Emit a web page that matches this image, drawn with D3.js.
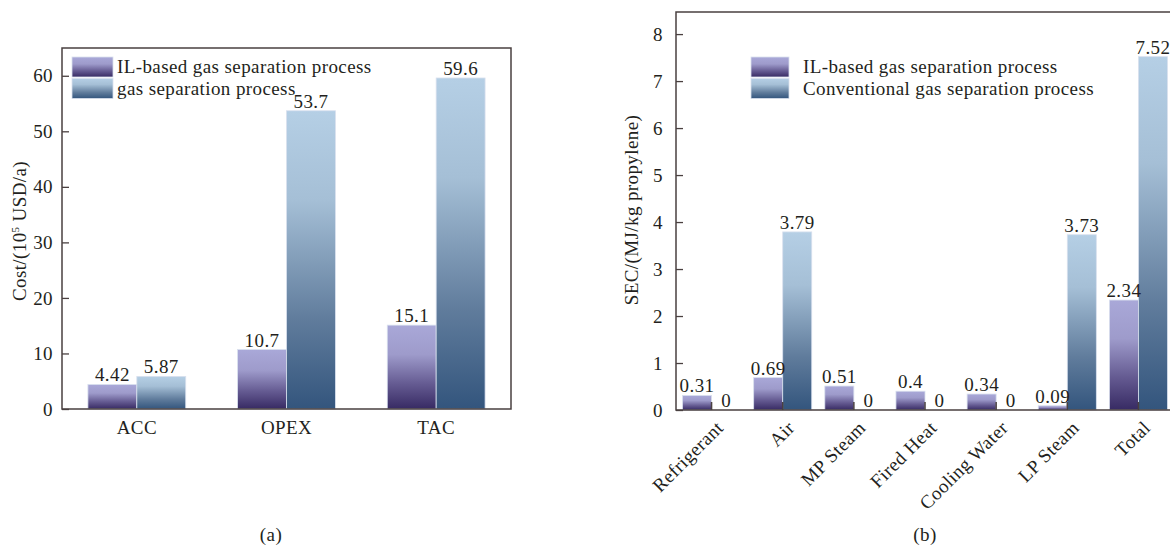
<!DOCTYPE html>
<html>
<head>
<meta charset="utf-8">
<script src="https://cdn.jsdelivr.net/npm/d3@7"></script>
<style>
  html, body { margin: 0; padding: 0; background: #fff; }
  svg { display: block; font-family: "Liberation Serif", "Times New Roman", serif; }
</style>
</head>
<body>
<svg id="chart" width="1170" height="547"></svg>
<script>
// Panel (a): annual cost comparison
const costCategories = ["ACC", "OPEX", "TAC"];
const costIL = [4.42, 10.7, 15.1];
const costConv = [5.87, 53.7, 59.6];
const costTicks = [0, 10, 20, 30, 40, 50, 60];
const costSeriesNames = ["IL-based gas separation process", "gas separation process"];

// Panel (b): specific energy consumption by utility
const secCategories = ["Refrigerant", "Air", "MP Steam", "Fired Heat", "Cooling Water", "LP Steam", "Total"];
const secIL = [0.31, 0.69, 0.51, 0.4, 0.34, 0.09, 2.34];
const secConv = [0, 3.79, 0, 0, 0, 3.73, 7.52];
const secTicks = [0, 1, 2, 3, 4, 5, 6, 7, 8];
const secSeriesNames = ["IL-based gas separation process", "Conventional gas separation process"];

const svg = d3.select("#chart");
const frameColor = "#4a4040";
const textColor = "#231f20";
const FONT = 19;
const SPACING = 0.4;
const FAMILY = "Liberation Serif, Times New Roman, serif";

// Vertical gradients, one per series, stretched over each bar
const defs = svg.append("defs");
function gradient(id, stops) {
  const g = defs.append("linearGradient").attr("id", id)
    .attr("x1", 0).attr("y1", 0).attr("x2", 0).attr("y2", 1);
  stops.forEach(([o, c]) => g.append("stop").attr("offset", o).attr("stop-color", c));
}
gradient("gradIL", [[0, "#a9a8d8"], [0.35, "#9e9bcb"], [0.7, "#655b92"], [1, "#372a63"]]);
gradient("gradConv", [[0, "#b5cfe5"], [0.3, "#a5bfd6"], [0.7, "#607c9c"], [1, "#33557d"]]);
const fills = ["url(#gradIL)", "url(#gradConv)"];

function styleText(sel) {
  return sel.attr("font-size", FONT).attr("fill", textColor)
    .attr("font-family", FAMILY).attr("letter-spacing", SPACING);
}

function drawPanel(cfg) {
  const g = svg.append("g");
  const x = d3.scaleBand().domain(cfg.categories).range([cfg.left, cfg.right]).paddingInner(0).paddingOuter(0);
  const sub = d3.scaleBand().domain([0, 1]).range([0, x.bandwidth()]).paddingInner(0).paddingOuter(cfg.subPad);
  const y = d3.scaleLinear().domain(cfg.yDomain).range([cfg.bottom, cfg.top]);

  const rows = cfg.categories.map((c, i) => ({ c, vals: [cfg.il[i], cfg.conv[i]] }));

  // bars
  const grp = g.selectAll("g.grp").data(rows).join("g")
    .attr("transform", d => `translate(${x(d.c)},0)`);
  grp.selectAll("rect").data(d => d.vals.map((v, s) => ({ v, s }))).join("rect")
    .attr("x", d => sub(d.s))
    .attr("width", sub.bandwidth())
    .attr("y", d => y(d.v))
    .attr("height", d => y(0) - y(d.v))
    .attr("fill", d => fills[d.s])
    .attr("stroke", "#d9e0ee")
    .attr("stroke-width", 0.8);

  // value labels
  grp.selectAll("text.val").data(d => d.vals.map((v, s) => ({ v, s }))).join("text")
    .attr("class", "val")
    .attr("x", d => sub(d.s) + sub.bandwidth() / 2)
    .attr("y", d => y(d.v) - 3)
    .attr("text-anchor", "middle")
    .call(styleText)
    .text(d => d.v);

  // y axis with inward ticks
  const yAxis = g.append("g").attr("transform", `translate(${cfg.left},0)`)
    .call(d3.axisLeft(y).tickValues(cfg.ticks).tickSize(-7).tickPadding(cfg.tickPad).tickFormat(d3.format("d")));
  yAxis.select(".domain").remove();
  yAxis.selectAll("line").attr("stroke", frameColor).attr("stroke-width", 1.3);
  yAxis.selectAll("text").call(styleText);

  // x axis
  const xAxis = g.append("g").attr("transform", `translate(0,${cfg.bottom})`)
    .call(d3.axisBottom(x).tickSize(cfg.xTickIn ? -8 : 0).tickPadding(0));
  xAxis.select(".domain").remove();
  xAxis.selectAll("line").attr("stroke", frameColor).attr("stroke-width", 1.5);
  const xt = xAxis.selectAll("text").call(styleText);
  if (cfg.rotate) {
    xt.attr("text-anchor", "end").attr("dy", 0).attr("y", 0)
      .attr("transform", `translate(${cfg.labelDx},${cfg.labelDy}) rotate(-45)`);
  } else {
    xt.attr("y", cfg.labelDy).attr("dy", 0);
  }

  // frame: left, top, right, bottom
  g.append("path")
    .attr("d", `M${cfg.left},${cfg.bottom}V${cfg.top}H${cfg.right}V${cfg.bottom}Z`)
    .attr("fill", "none").attr("stroke", frameColor).attr("stroke-width", 1.5);

  // legend
  const lg = g.append("g").attr("transform", `translate(${cfg.legX},${cfg.legY})`);
  cfg.names.forEach((n, i) => {
    lg.append("rect").attr("x", 0).attr("y", i * 21.5).attr("width", cfg.swW).attr("height", 20)
      .attr("fill", fills[i]).attr("stroke", "#d9e0ee").attr("stroke-width", 0.8);
    lg.append("text").attr("x", cfg.legTextX).attr("y", i * 21.5 + 16)
      .call(styleText).text(n);
  });

  // y title
  const yt = g.append("text")
    .attr("transform", `translate(${cfg.yTitleX},${cfg.yTitleY}) rotate(-90)`)
    .attr("text-anchor", "middle").call(styleText);
  cfg.yTitle(yt);

  // caption
  g.append("text").attr("x", cfg.capX).attr("y", 541).attr("text-anchor", "middle")
    .call(styleText).text(cfg.caption);
}

drawPanel({
  categories: costCategories, il: costIL, conv: costConv, ticks: costTicks,
  names: costSeriesNames,
  left: 62, right: 511, top: 48, bottom: 409, yDomain: [0, 65],
  subPad: 0.53, tickPad: 9, xTickIn: false, rotate: false, labelDy: 25,
  legX: 72, legY: 57, swW: 41, legTextX: 45,
  yTitleX: 26, yTitleY: 231,
  yTitle: t => {
    t.append("tspan").text("Cost/(10");
    t.append("tspan").attr("font-size", 11).attr("dy", -7).text("5");
    t.append("tspan").attr("dy", 7).text(" USD/a)");
  },
  capX: 271, caption: "(a)"
});

drawPanel({
  categories: secCategories, il: secIL, conv: secConv, ticks: secTicks,
  names: secSeriesNames,
  left: 676, right: 1174, top: 12, bottom: 410, yDomain: [0, 8.47],
  subPad: 0.225, tickPad: 13, xTickIn: true, rotate: true, labelDx: 13, labelDy: 19,
  legX: 751, legY: 57, swW: 38, legTextX: 52,
  yTitleX: 638, yTitleY: 210,
  yTitle: t => t.text("SEC/(MJ/kg propylene)"),
  capX: 925, caption: "(b)"
});
</script>
</body>
</html>
